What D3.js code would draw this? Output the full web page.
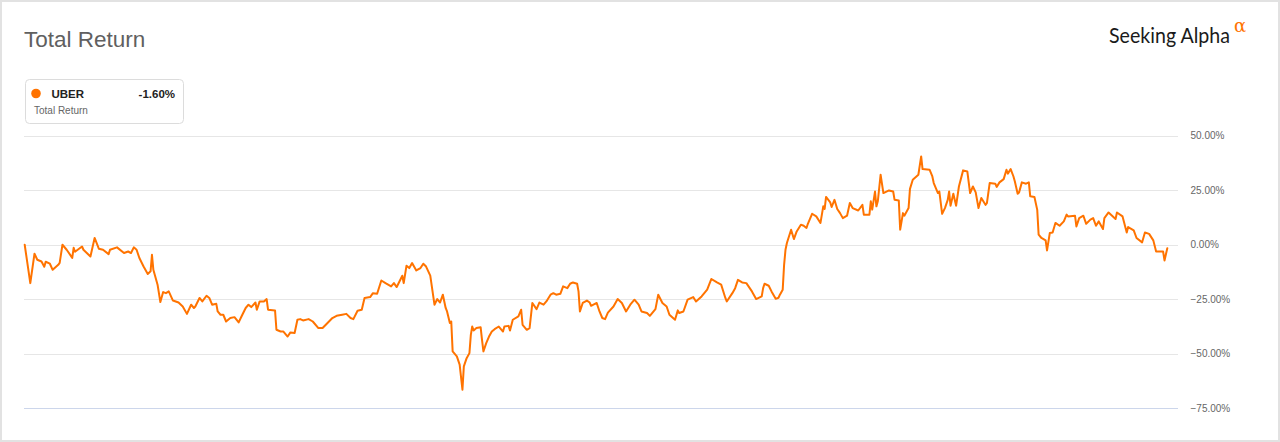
<!DOCTYPE html>
<html>
<head>
<meta charset="utf-8">
<script src="https://cdn.jsdelivr.net/npm/d3@7"></script>
<style>
  html, body { margin: 0; padding: 0; background: #fff; }
  svg { display: block; font-family: "Liberation Sans", Arial, sans-serif; }
</style>
</head>
<body>
<svg id="chart" width="1280" height="442"></svg>
<script>
// ---- data ----
const startDate = "2019-05-10";           // first point of the series (day 0)
const ticker = "UBER";
const legendValue = "-1.60%";
const yTicks = [50, 25, 0, -25, -50, -75];

// days since start
const dayOffsets = [
  0,4,7,9,12,14,15,18,20,24,25,27,30,34,35,36,41,42,47,50,53,56,60,61,66,71,74,76,78,80,82,85,88,90,91,92,95,97,99,
  101,103,106,110,113,116,119,121,122,125,127,130,132,134,137,138,140,142,144,147,150,153,155,158,160,162,165,166,168,171,173,174,179,180,183,185,188,190,193,195,197,
  199,203,206,210,213,216,220,223,227,230,233,235,238,241,243,247,249,252,255,258,262,264,266,270,271,273,275,277,280,283,285,287,290,293,295,297,299,301,
  302,304,305,306,309,311,313,314,316,318,319,320,321,323,326,327,328,330,332,334,336,339,342,343,346,347,349,353,355,356,359,361,363,366,368,371,373,376,378,380,383,385,388,390,392,395,396,397,
  399,402,404,405,409,411,413,415,417,421,424,427,430,433,436,439,441,445,447,451,453,456,459,461,465,467,468,471,474,478,480,484,488,491,495,498,501,502,506,508,510,513,516,520,523,527,528,529,532,534,537,539,540,
  542,543,544,545,548,550,552,555,557,559,560,563,566,569,571,572,573,576,577,579,581,583,585,588,590,592,596,599,600,604,605,606,608,609,610,612,614,618,621,622,625,626,
  628,629,632,633,635,639,641,642,647,649,650,653,654,656,658,660,661,662,664,666,668,671,674,676,678,680,682,684,687,688,690,694,695,697,700,702,703,705,707,708,710,711,713,716,718,719,722,724,
  725,727,730,731,733,735,737,740,743,745,746,751,752,754,757,759,762,764,766,768,771,772,775,780,781,785,788,789,793,795,799,801,804,807,809,814,815,817
];

// total return, %
const totalReturn = [
  0,-17.6,-4.1,-6.9,-7.7,-10.1,-7.8,-8.7,-11.5,-9.2,-8.3,0,-2.3,-6.0,-1.4,-3.2,-0.8,-2.3,-5.4,3.1,-1.8,-2.3,-4.3,-2.3,-1.2,-3.8,-3.1,-3.8,-1.2,-2.3,-6.1,-10.0,-13.4,-12.2,-4.6,-11.5,-18.3,-26.3,-21.7,
  -22.2,-21.4,-25.6,-26.5,-28.3,-31.7,-27.5,-29.0,-28.3,-24.4,-26.0,-23.4,-24.4,-27.5,-27.1,-30.6,-32.1,-32.1,-35.2,-33.6,-33.2,-35.6,-32.9,-29.0,-27.5,-28.6,-26.5,-29.8,-26.0,-26.0,-24.9,-29.8,-30.1,-39.0,-39.8,-39.8,-42.1,-40.2,-40.5,-34.4,-34.1,
  -34.7,-34.1,-35.2,-38.2,-38.2,-36.2,-33.6,-32.6,-32.1,-31.7,-33.6,-34.1,-30.3,-29.8,-24.4,-24.0,-22.2,-22.5,-16.4,-17.6,-19.1,-17.6,-19.4,-14.2,-17.6,-9.6,-10.7,-8.4,-11.8,-10.7,-8.7,-10.0,-14.2,-27.5,-24.9,-26.5,-22.9,-29.0,
  -30.6,-35.9,-35.2,-48.9,-51.2,-55.0,-66.5,-55.8,-52.0,-49.7,-41.3,-37.5,-39.3,-38.2,-37.8,-43.6,-48.9,-45.1,-42.1,-39.8,-38.7,-37.5,-39.8,-37.5,-37.2,-39.3,-34.4,-32.9,-29.8,-36.7,-39.0,-38.2,-26.7,-29.5,-26.5,-27.5,-26.0,-22.9,-22.2,-22.9,-22.5,-19.1,-19.9,-17.9,-17.3,-17.9,-21.4,-30.6,
  -26.7,-25.6,-26.5,-28.0,-26.7,-30.6,-33.6,-34.1,-31.1,-28.3,-24.9,-26.7,-30.6,-27.5,-25.2,-27.5,-30.6,-31.3,-32.6,-29.5,-22.9,-26.7,-28.3,-32.1,-34.4,-30.1,-31.3,-30.6,-25.2,-24.0,-26.0,-23.7,-20.6,-15.7,-17.3,-18.3,-24.4,-26.0,-22.2,-19.9,-16.1,-17.3,-17.6,-21.4,-24.9,-23.7,-19.9,-17.9,-18.8,-21.4,-24.8,-24.3,-22.9,
  -20.6,-9.2,-2.3,0.8,6.9,2.6,6.1,9.2,8.7,7.7,9.6,14.2,13.0,10.0,17.6,16.4,21.9,19.4,17.3,20.6,16.4,14.5,12.2,13.3,19.1,16.8,15.7,18.3,13.8,13.8,19.9,16.1,24.4,17.6,19.9,32.1,23.7,24.9,24.4,20.6,20.3,6.9,
  14.5,13.3,16.8,25.6,29.8,32.1,40.5,34.7,34.4,31.3,28.3,23.7,24.4,14.2,16.8,20.6,24.4,17.9,23.4,17.9,26.7,34.1,33.6,23.7,26.7,24.0,16.8,21.4,18.3,19.1,28.3,28.0,26.5,28.6,30.1,34.4,32.6,34.7,31.3,29.0,23.4,24.0,28.6,28.0,28.6,22.2,21.9,16.0,
  4.6,3.1,2.0,-2.6,5.4,5.6,10.0,8.7,10.7,13.8,13.0,13.3,8.4,12.2,13.3,9.6,11.5,12.2,8.7,10.7,7.2,12.2,14.8,11.8,14.8,13.0,5.6,8.1,6.6,3.1,1.1,5.6,5.0,2.0,-3.1,-3.1,-7.2,-1.6
];

// ---- build ----
const parse = d3.timeParse("%Y-%m-%d");
const t0 = parse(startDate);
const n = Math.min(dayOffsets.length, totalReturn.length);
const series = d3.range(n).map(i => ({ date: d3.timeDay.offset(t0, dayOffsets[i]), value: totalReturn[i] }));

const svg = d3.select("#chart");
const W = 1280, H = 442;
const plot = { left: 24.7, right: 1167.3, gridRight: 1178, top: 135.7, bottom: 408.3 };

const orange = "#ff7300";

// outer border
svg.append("rect").attr("x", 1).attr("y", 1).attr("width", W - 2).attr("height", H - 2)
  .attr("fill", "#fff").attr("stroke", "#e2e2e2").attr("stroke-width", 2);

// title
svg.append("text").attr("x", 24).attr("y", 47).attr("font-size", 22.5).attr("fill", "#606060")
  .text("Total Return");

// logo
const logo = svg.append("g");
logo.append("text").attr("x", 1109).attr("y", 43).attr("font-family", "Lato, 'Open Sans', sans-serif")
  .attr("font-size", 20.5).attr("fill", "#1a1a1a").attr("textLength", 121).attr("lengthAdjust", "spacingAndGlyphs")
  .text("Seeking Alpha");
logo.append("text").attr("x", 1234).attr("y", 32).attr("font-family", "'DejaVu Serif', serif")
  .attr("font-size", 18).attr("fill", orange).text("α");

// legend box
const lg = svg.append("g");
lg.append("rect").attr("x", 25.5).attr("y", 79.5).attr("width", 158).attr("height", 44).attr("rx", 4)
  .attr("fill", "#fff").attr("stroke", "#dcdcdc");
lg.append("circle").attr("cx", 36).attr("cy", 93.5).attr("r", 4.8).attr("fill", orange);
lg.append("text").attr("x", 51.5).attr("y", 98).attr("font-size", 11.5).attr("font-weight", "bold").attr("fill", "#222").text(ticker);
lg.append("text").attr("x", 175).attr("y", 98).attr("text-anchor", "end").attr("font-size", 11.5).attr("font-weight", "bold").attr("fill", "#222").text(legendValue);
lg.append("text").attr("x", 34).attr("y", 113.5).attr("font-size", 10).attr("fill", "#666").text("Total Return");

// scales
const x = d3.scaleTime()
  .domain([series[0].date, series[n - 1].date])
  .range([plot.left, plot.right]);
const y = d3.scaleLinear().domain([-75, 50]).range([plot.bottom, plot.top]);

// gridlines + labels
const grid = svg.append("g");
grid.selectAll("line").data(yTicks).join("line")
  .attr("x1", 24).attr("x2", plot.gridRight)
  .attr("y1", d => Math.round(y(d)) + 0.5).attr("y2", d => Math.round(y(d)) + 0.5)
  .attr("stroke", d => d === -75 ? "#ccd6eb" : "#e6e6e6").attr("stroke-width", 1);

const axis = d3.axisRight(y).tickValues(yTicks).tickSize(0).tickPadding(0)
  .tickFormat(d => d3.format(".2f")(d) + "%");
const ag = svg.append("g").attr("transform", `translate(${1190.5},0)`).call(axis);
ag.select(".domain").remove();
ag.selectAll("text").attr("font-size", 10).attr("fill", "#666")
  .attr("font-family", "'Liberation Sans', Arial, sans-serif");

// line
const line = d3.line().x(d => x(d.date)).y(d => y(d.value)).curve(d3.curveLinear);
svg.append("path").datum(series).attr("d", line)
  .attr("fill", "none").attr("stroke", orange).attr("stroke-width", 2)
  .attr("stroke-linejoin", "round").attr("stroke-linecap", "round");
</script>
</body>
</html>
